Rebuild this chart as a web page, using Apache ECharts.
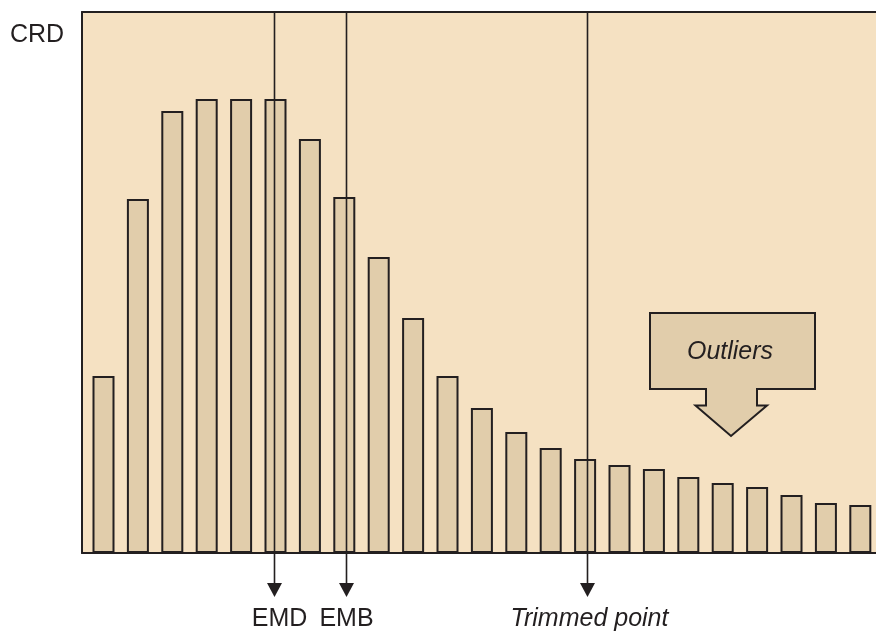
<!DOCTYPE html>
<html>
<head>
<meta charset="utf-8">
<style>html,body{margin:0;padding:0;background:#fff;}#c{width:876px;height:632px;}</style>
<script src="https://cdn.jsdelivr.net/npm/echarts@6/dist/echarts.min.js"></script>
</head>
<body>
<div id="c"></div>
<script>
// Data (arbitrary CRD units)
const binIndex = [0,1,2,3,4,5,6,7,8,9,10,11,12,13,14,15,16,17,18,19,20,21,22];
const crdValues = [177,354,442,454,454,454,414,356,296,235,177,145,121,105,94,88,84,76,70,66,58,50,48];
const markerNames = ['EMD','EMB','Trimmed point'];
const markerPositions = [4.97, 7.04, 14.05];
const markerItalic = [false,false,true];
const labelOffsets = [5, 0, 2];
const calloutText = 'Outliers';
const yLabel = 'CRD';

const chart = echarts.init(document.getElementById('c'), null, {renderer:'canvas'});
const ink = '#231f20';
const font = 'Liberation Sans, Arial, Helvetica, sans-serif';
const axisCommon = {axisLabel:{show:false}, axisTick:{show:false}, splitLine:{show:false}, axisLine:{show:true, onZero:false, lineStyle:{color:ink, width:2}}};

chart.setOption({
  animation:false,
  grid:{left:82, top:12, right:0, bottom:79, show:true, backgroundColor:'#F5E1C2', borderWidth:0, outerBoundsMode:'none'},
  xAxis:[
    Object.assign({type:'value', min:-0.625, max:22.456, position:'bottom'}, axisCommon),
    Object.assign({type:'value', min:-0.625, max:22.456, position:'top'}, axisCommon)
  ],
  yAxis:Object.assign({type:'value', min:0, max:541, position:'left'}, axisCommon),
  series:[{
    type:'bar',
    xAxisIndex:0,
    data:binIndex.map((x,i)=>[x,crdValues[i]]),
    barWidth:22,
    itemStyle:{color:'#E1CDAB', borderColor:ink, borderWidth:2},
    silent:true
  }]
});

const g = [];
g.push({type:'text', left:10, top:23, style:{text:yLabel, font:'25px '+font, fill:ink}});
const topY = chart.convertToPixel({gridIndex:0},[0,541])[1];
markerNames.forEach((name,i)=>{
  const px = chart.convertToPixel({gridIndex:0},[markerPositions[i],0]);
  const x = Math.round(px[0])+0.5;
  g.push({type:'line', shape:{x1:x,y1:topY,x2:x,y2:584}, style:{stroke:ink, lineWidth:1.6}, z:100});
  g.push({type:'polygon', shape:{points:[[x-7.5,583],[x+7.5,583],[x,597]]}, style:{fill:ink}, z:100});
  g.push({type:'text', x:x+labelOffsets[i], y:619, style:{text:name, font:(markerItalic[i]?'italic ':'')+'25px '+font, fill:ink, textAlign:'center', textVerticalAlign:'middle'}, z:100});
});
// callout arrow
g.push({type:'polygon', shape:{points:[[650,313],[815,313],[815,389],[757,389],[757,405.5],[767,405.5],[731,436],[695.5,405.5],[706,405.5],[706,389],[650,389]]},
  style:{fill:'#E1CDAB', stroke:ink, lineWidth:2}, z:90});
g.push({type:'text', x:730, y:352, style:{text:calloutText, font:'italic 25px '+font, fill:ink, textAlign:'center', textVerticalAlign:'middle'}, z:95});
chart.setOption({graphic:g});
</script>
</body>
</html>
